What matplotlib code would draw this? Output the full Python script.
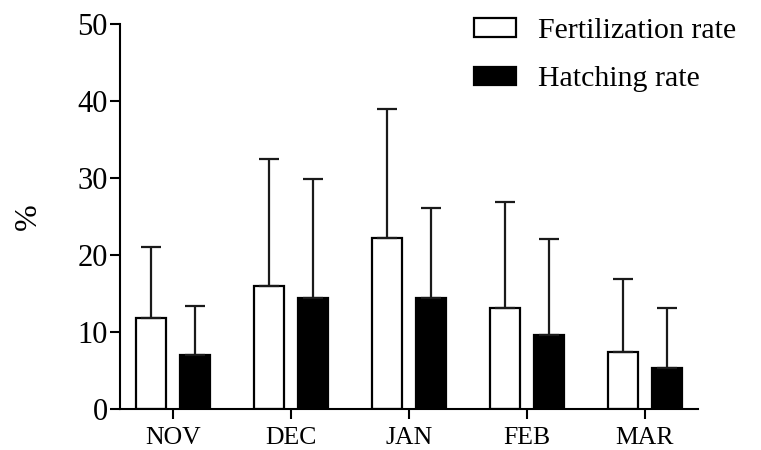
import numpy as np
import matplotlib.pyplot as plt

plt.rcParams['font.family'] = ['Liberation Serif', 'DejaVu Serif']

months = ['NOV', 'DEC', 'JAN', 'FEB', 'MAR']

# mean values (%)
fert_mean = [11.9, 16.0, 22.2, 13.2, 7.4]
hatch_mean = [7.1, 14.4, 14.4, 9.6, 5.4]

# top of error bars (%)
fert_top = [21.1, 32.5, 39.0, 26.9, 16.9]
hatch_top = [13.4, 29.9, 26.1, 22.1, 13.1]

fert_err = np.array(fert_top) - np.array(fert_mean)
hatch_err = np.array(hatch_top) - np.array(hatch_mean)

x = np.arange(len(months))
w = 0.255
off = 0.186

fig = plt.figure(figsize=(7.61, 4.5), dpi=100)
ax = fig.add_axes([0.1577, 0.0904, 0.917 - 0.1577, 0.946 - 0.0904])

ekw = dict(elinewidth=1.6, capthick=1.6, ecolor='#1a1a1a')
ax.bar(x - off, fert_mean, w, color='white', edgecolor='black', linewidth=1.6,
       yerr=[np.zeros(5), fert_err], capsize=7, error_kw=ekw, label='Fertilization rate')
ax.bar(x + off, hatch_mean, w, color='black', edgecolor='black', linewidth=1.6,
       yerr=[np.zeros(5), hatch_err], capsize=7, error_kw=ekw, label='Hatching rate')

ax.set_ylim(0, 50)
ax.set_xlim(-0.45, 4.45)
ax.set_yticks([0, 10, 20, 30, 40, 50])
ax.set_xticks(x)
ax.set_xticklabels(months)
ax.tick_params(axis='y', labelsize=22, length=7, width=1.5, pad=2)
ax.tick_params(axis='x', labelsize=18.5, length=7, width=1.5, pad=6)
ax.set_ylabel('%', fontsize=23, labelpad=25)
for s in ['top', 'right']:
    ax.spines[s].set_visible(False)
for s in ['left', 'bottom']:
    ax.spines[s].set_linewidth(1.5)

fig.legend(loc='upper left', bbox_to_anchor=(474 / 761, 1 - 18 / 450), frameon=False,
           fontsize=21.5, handlelength=1.4, handleheight=0.57, handletextpad=0.75,
           labelspacing=0.75, borderpad=0, borderaxespad=0)

fig.savefig('out.png', dpi=100)
